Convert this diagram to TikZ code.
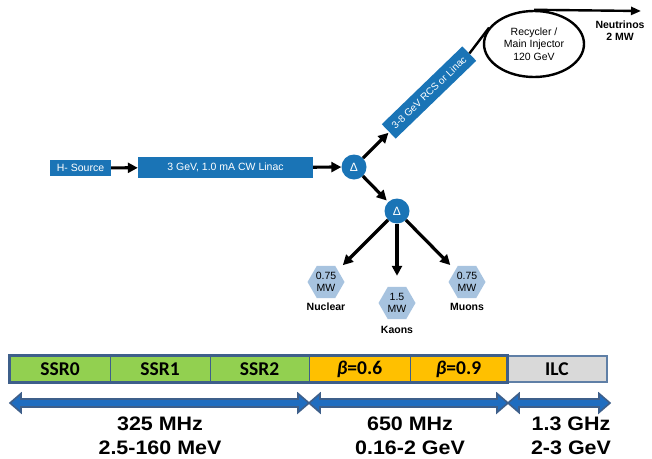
\documentclass[tikz,border=0pt]{standalone}
\usepackage{fontspec}
\setmainfont{Liberation Sans}
\newfontfamily\carlito{Carlito}
\usetikzlibrary{arrows.meta,shapes.geometric,calc}
\definecolor{fblue}{HTML}{1A74B6}
\definecolor{hexblue}{HTML}{A7C3DF}
\definecolor{barblue}{HTML}{3E5F8A}
\definecolor{ilcframe}{HTML}{5F7FA6}
\definecolor{arrblue}{HTML}{1F6DC0}
\definecolor{cgreen}{HTML}{92D050}
\definecolor{corange}{HTML}{FFC000}
\definecolor{cgrey}{HTML}{D9D9D9}
\begin{document}
\begin{tikzpicture}[x=1pt,y=-1pt,
  bluebox/.style={fill=fblue, text=white, font=\fontsize{10.5}{12}\selectfont, inner sep=0pt},
  dnode/.style={circle, fill=fblue, text=white, minimum size=25pt, inner sep=0pt, font=\fontsize{12}{13}\selectfont},
  flow/.style={line width=3.2pt, -{Triangle[length=10pt,width=10pt]}},
  thinline/.style={line width=2.4pt},
  hexnode/.style={regular polygon, regular polygon sides=6, fill=hexblue, minimum size=37pt, inner sep=0pt, align=center, font=\fontsize{10.5}{12}\selectfont},
  lbl/.style={font=\bfseries\fontsize{10.5}{12}\selectfont, inner sep=0pt},
  cell/.style={draw=barblue, line width=1pt, minimum height=26pt, inner sep=0pt, font=\carlito\bfseries\fontsize{19.5}{20}\selectfont},
  dblarr/.style={draw=barblue, fill=arrblue, line width=1.6pt, line join=miter},
  freq/.style={align=center, font=\bfseries\fontsize{19.5}{24}\selectfont, xscale=1.1, inner sep=0pt}
]
\useasboundingbox (0,0) rectangle (652,458);

% top flow
\node[bluebox, minimum width=61pt, minimum height=16pt] (src) at (80.5,168) {H- Source};
\node[bluebox, minimum width=175pt, minimum height=21pt] (linac) at (225.5,167.5) {3 GeV, 1.0 mA CW Linac};
\node[dnode] (d1) at (354,167) {Δ};
\node[dnode] (d2) at (397,211) {Δ};
\node[bluebox, rotate=44, minimum width=112pt, minimum height=20pt, font=\fontsize{10}{12}\selectfont] (rcs) at (429,92.5) {3-8 GeV RCS or Linac};
\node[ellipse, draw, line width=2.4pt, minimum width=100pt, minimum height=66pt, inner sep=0pt, align=center, font=\fontsize{10.5}{12.5}\selectfont] (ring) at (534,44) {Recycler /\\Main Injector\\120 GeV};
\coordinate (nu) at (641,11);
\node[lbl, align=center] (nuL) at (620,31) {Neutrinos\\2 MW};

\draw[flow] (src) -- (linac);
\draw[flow] (linac) -- (d1);
\draw[flow, shorten >=1pt] (d1) -- (rcs);
\draw[flow, shorten >=2pt] (d1) -- (d2);
\draw[thinline] (rcs.east) -- (ring.160);
\draw[thinline, -{Triangle[length=10pt,width=8pt]}] (ring.north) -- (nu);

% targets
\node[hexnode] (nuc) at (326,282) {0.75\\MW};
\node[hexnode] (kao) at (397,303) {1.5\\MW};
\node[hexnode] (muo) at (467,282) {0.75\\MW};
\node[lbl] (nucL) at (326,307) {Nuclear};
\node[lbl] (kaoL) at (397,330) {Kaons};
\node[lbl] (muoL) at (467,307) {Muons};
\draw[flow, shorten >=7pt] (d2) -- (nuc);
\draw[flow, shorten >=11pt] (d2) -- (kao);
\draw[flow, shorten >=7pt] (d2) -- (muo);

% bottom bar
\node[cell, fill=cgreen, minimum width=100pt] (s0) at (60,369) {SSR0};
\node[cell, fill=cgreen, minimum width=100pt] (s1) at (160,369) {SSR1};
\node[cell, fill=cgreen, minimum width=99pt] (s2) at (259.5,369) {SSR2};
\node[cell, fill=corange, minimum width=101pt] (b6) at (359.5,369) {\itshape β\upshape=0.6};
\node[cell, fill=corange, minimum width=97pt] (b9) at (458.5,369) {\itshape β\upshape=0.9};
\node[cell, fill=cgrey, draw=ilcframe, line width=2pt, minimum width=100pt] (ilc) at (557,369) {ILC};
\draw[barblue, line width=2.5pt] (s0.north west) rectangle (b9.south east);

\coordinate (a0) at (10,403);
\coordinate (a1) at (309,403);
\coordinate (a2) at (508,403);
\coordinate (a3) at (610,403);
\foreach \ua/\ub in {a0/a1, a1/a2, a2/a3}{
\draw[dblarr] let \p1=(\ua), \p2=(\ub) in
  (\x1,\y1) -- (\x1+11pt,\y1+9.5pt) -- (\x1+11pt,\y1+4pt) -- (\x2-11pt,\y2+4pt)
  -- (\x2-11pt,\y2+9.5pt) -- (\x2,\y2) -- (\x2-11pt,\y2-9.5pt) -- (\x2-11pt,\y2-4pt)
  -- (\x1+11pt,\y1-4pt) -- (\x1+11pt,\y1-9.5pt) -- cycle;
}

\node[freq] (f1) at (160,436) {325 MHz\\2.5-160 MeV};
\node[freq] (f2) at (410,436) {650 MHz\\0.16-2 GeV};
\node[freq] (f3) at (571,436) {1.3 GHz\\2-3 GeV};
\end{tikzpicture}
\end{document}
